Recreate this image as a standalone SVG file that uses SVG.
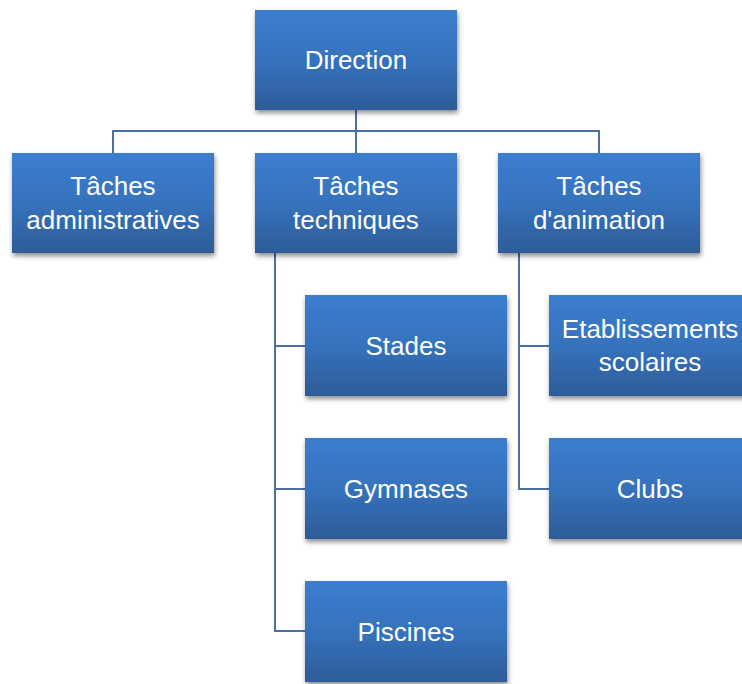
<svg xmlns="http://www.w3.org/2000/svg" width="742" height="684" viewBox="0 0 742 684">
<defs>
<linearGradient id="g" x1="0" y1="0" x2="0" y2="1">
<stop offset="0" stop-color="#3b7ecf"/>
<stop offset="0.5" stop-color="#3672bd"/>
<stop offset="1" stop-color="#2d5c98"/>
</linearGradient>
<filter id="sh" x="-10%" y="-10%" width="125%" height="130%">
<feDropShadow dx="1" dy="3" stdDeviation="2.5" flood-color="#000" flood-opacity="0.45"/>
</filter>
</defs>
<style>
.box{fill:url(#g);filter:url(#sh)}
.t{font-family:"Liberation Sans",Arial,sans-serif;font-size:26px;fill:#fff;text-anchor:middle}
.c{fill:none;stroke:#4a70a2;stroke-width:2}
</style>
<rect width="742" height="684" fill="#fff"/>
<g id="connectors">
<path class="c" d="M356 110V153M113 153V131H599V153"/>
<path class="c" d="M275 253V631H305M275 346H305M275 489H305"/>
<path class="c" d="M519 253V489H549M519 346H549"/>
</g>
<g id="direction"><rect class="box" x="255" y="10" width="202" height="100"/><text class="t" x="356" y="69">Direction</text></g>
<g id="admin"><rect class="box" x="12" y="153" width="202" height="100"/><text class="t" x="113" y="195">Tâches</text><text class="t" x="113" y="229">administratives</text></g>
<g id="tech"><rect class="box" x="255" y="153" width="202" height="100"/><text class="t" x="356" y="195">Tâches</text><text class="t" x="356" y="229">techniques</text></g>
<g id="anim"><rect class="box" x="498" y="153" width="202" height="100"/><text class="t" x="599" y="195">Tâches</text><text class="t" x="599" y="229">d'animation</text></g>
<g id="stades"><rect class="box" x="305" y="295" width="202" height="101"/><text class="t" x="406" y="355">Stades</text></g>
<g id="gymnases"><rect class="box" x="305" y="438" width="202" height="101"/><text class="t" x="406" y="498">Gymnases</text></g>
<g id="piscines"><rect class="box" x="305" y="581" width="202" height="101"/><text class="t" x="406" y="641">Piscines</text></g>
<g id="etab"><rect class="box" x="549" y="295" width="202" height="101"/><text class="t" x="650" y="338">Etablissements</text><text class="t" x="650" y="371">scolaires</text></g>
<g id="clubs"><rect class="box" x="549" y="438" width="202" height="101"/><text class="t" x="650" y="498">Clubs</text></g>
</svg>
